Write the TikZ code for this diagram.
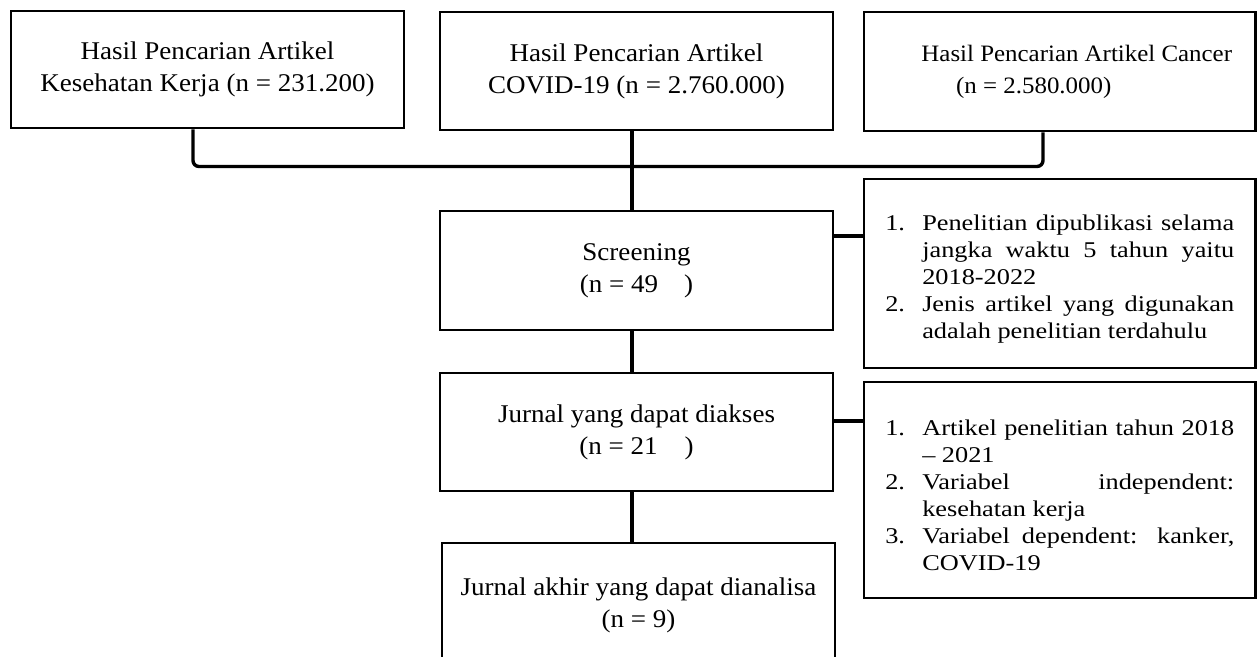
\documentclass[tikz,border=0pt]{standalone}
\usepackage{fontspec}
\setmainfont{Liberation Serif}[FakeStretch=1.06]
\newfontfamily\rfont{Liberation Serif}[FakeStretch=1.17]
\newcommand{\mainsz}{\fontsize{25.5}{32}\selectfont}
\newcommand{\smallsz}{\fontsize{23.5}{32}\selectfont}
\newcommand{\rsz}{\rfont\fontsize{22.5}{27}\selectfont}
\newcommand{\itm}[2]{\par\noindent\hangindent=37pt\hangafter=1\makebox[37pt][l]{#1}#2\par}
\tikzset{
  box/.style={draw, line width=2.6pt, inner sep=0pt, align=center, font=\mainsz},
  listbox/.style={box, text width=349pt, align=justify, font=\rsz},
  conn/.style={line width=3.4pt},
}
\begin{document}
\begin{tikzpicture}[x=1pt, y=-1pt]
\useasboundingbox (0,0) rectangle (1257,656);
\clip (0,0) rectangle (1257,656);

% top boxes
\node[box, minimum width=393pt, minimum height=117pt] (c1) at (207.5,69.5)
  {Hasil Pencarian Artikel\\Kesehatan Kerja (n = 231.200)};
\node[box, minimum width=393pt, minimum height=118pt] (c2) at (636.5,71)
  {Hasil Pencarian Artikel\\COVID-19 (n = 2.760.000)};
\node[box, minimum width=391.5pt, minimum height=119pt, font=\smallsz] (c3) at (1059.75,71.5)
  {\hspace*{34pt}Hasil Pencarian Artikel Cancer\\(n = 2.580.000)\rule{52pt}{0pt}};

% main column
\node[box, minimum width=393pt, minimum height=119pt] (scr) at (636.5,270.5)
  {Screening\\(n = 49\hspace{26pt})};
\node[box, minimum width=393pt, minimum height=118pt] (j1) at (636.5,432)
  {Jurnal yang dapat diakses\\(n = 21\hspace{27pt})};
\node[box, minimum width=393pt, minimum height=125pt] (j2) at (638.5,605.5)
  {Jurnal akhir yang dapat dianalisa\\(n = 9)};

% right boxes
\node[listbox, minimum width=391.5pt, minimum height=189pt] (r1) at (1059.75,273.5)
  {\itm{1.}{Penelitian dipublikasi selama\linebreak jangka waktu 5 tahun yaitu\linebreak 2018-2022}\itm{2.}{Jenis artikel yang digunakan\linebreak adalah penelitian terdahulu}};
\node[listbox, minimum width=391.5pt, minimum height=216pt] (r2) at (1059.75,490)
  {\itm{1.}{Artikel penelitian tahun 2018\linebreak – 2021}\itm{2.}{Variabel independent:\linebreak kesehatan kerja}\itm{3.}{Variabel dependent: kanker,\linebreak COVID-19}};

% connectors
\coordinate (k1) at (193,166.5);
\coordinate (k2) at (632,166.5);
\coordinate (k3) at (1043,166.5);
\coordinate (h1) at (848,236);
\coordinate (h2) at (848,421);
\draw[conn, rounded corners=6pt] (c1.south -| k1) -- (k1) -- (k3) -- (c3.south -| k3);
\draw[conn] (c2.south -| k2) -- (scr.north -| k2);
\draw[conn] (scr.south -| k2) -- (j1.north -| k2);
\draw[conn] (j1.south -| k2) -- (j2.north -| k2);
\draw[conn] (scr.east |- h1) -- (r1.west |- h1);
\draw[conn] (j1.east |- h2) -- (r2.west |- h2);
\end{tikzpicture}
\end{document}
